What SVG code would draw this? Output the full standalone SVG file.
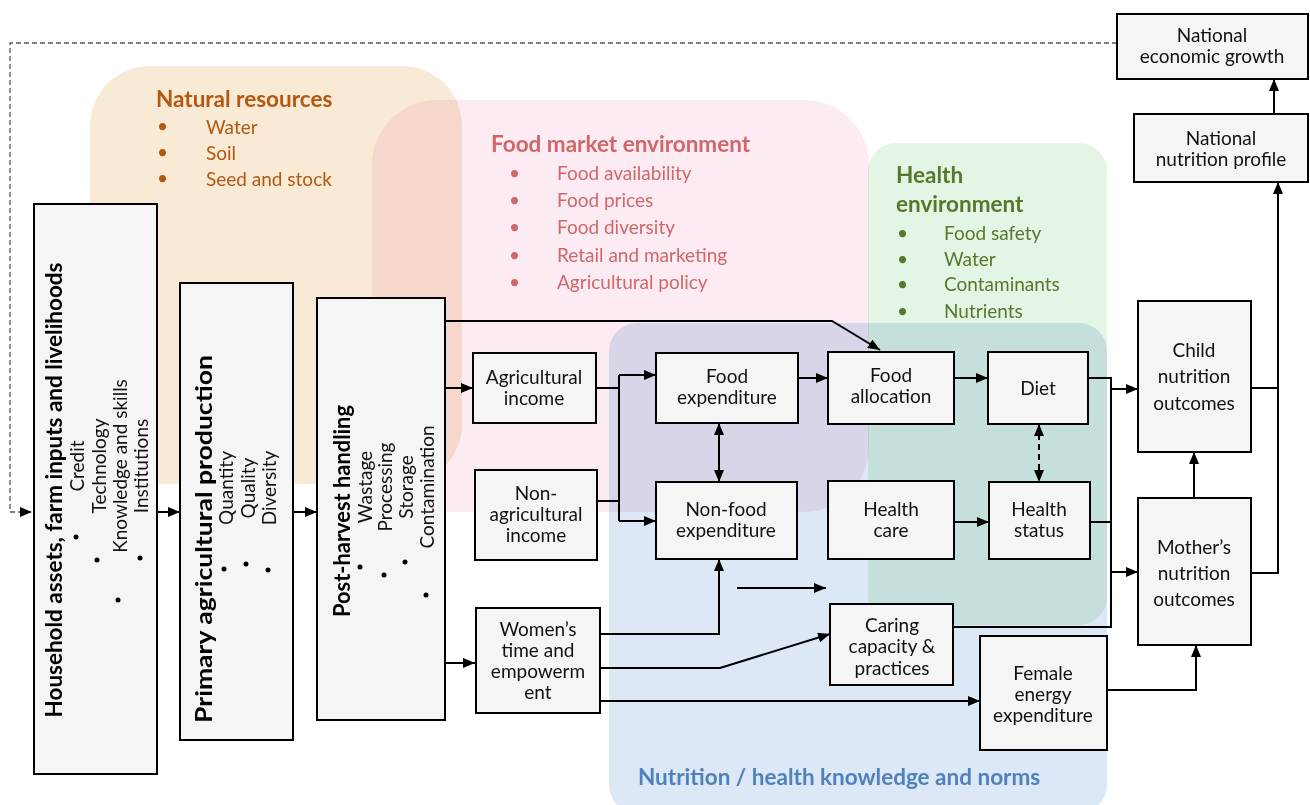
<svg xmlns="http://www.w3.org/2000/svg" width="1310" height="805" viewBox="0 0 1310 805">
<style>
.bg{mix-blend-mode:multiply}
.box{fill:#f5f5f5;stroke:#000;stroke-width:2}
.t{font-family:Lato,"Open Sans",sans-serif;font-size:19px;fill:#111;text-anchor:middle}
.v{font-family:Lato,"Open Sans",sans-serif;font-size:19px;fill:#111;text-anchor:middle}
.vb{font-family:Lato,"Open Sans",sans-serif;font-size:22px;font-weight:bold;fill:#000;text-anchor:middle}
.c{fill:none;stroke:#000;stroke-width:2}
.dot{fill:#000}
.nr{font-family:Lato,"Open Sans",sans-serif;font-size:19px;fill:#b4570f}
.fm{font-family:Lato,"Open Sans",sans-serif;font-size:19px;fill:#d0676a}
.he{font-family:Lato,"Open Sans",sans-serif;font-size:19px;fill:#55782a}
.hd{font-size:22.5px;font-weight:bold}
</style>
<defs>
<marker id="ah" viewBox="0 0 12 10" refX="12" refY="5" markerWidth="12" markerHeight="10" markerUnits="userSpaceOnUse" orient="auto-start-reverse"><path d="M0,0 L12,5 L0,10 z" fill="#000"/></marker>
</defs>
<rect width="1310" height="805" fill="#fff"/>
<g id="backgrounds">
<rect class="bg" x="90" y="66" width="372" height="418" rx="60" fill="#f9ead6"/>
<rect class="bg" x="372" y="100" width="497" height="412" rx="65" fill="#fcebf2"/>
<rect class="bg" x="868" y="143" width="239" height="482" rx="28" fill="#e4f5e5"/>
<rect class="bg" x="609" y="323" width="498" height="490" rx="28" fill="#dce8f5"/>
</g>
<g id="natural-resources">
<text class="nr hd" x="156" y="107">Natural resources</text>
<text class="nr" x="157" y="133" fill="#e07020">•</text><text class="nr" x="206" y="134">Water</text>
<text class="nr" x="157" y="159" fill="#e07020">•</text><text class="nr" x="206" y="160">Soil</text>
<text class="nr" x="157" y="185" fill="#e07020">•</text><text class="nr" x="206" y="186">Seed and stock</text>
</g>
<g id="food-market">
<text class="fm hd" x="491" y="152" fill="#c0504d">Food market environment</text>
<text class="fm" x="509" y="180">•</text><text class="fm" x="557" y="180">Food availability</text>
<text class="fm" x="509" y="207">•</text><text class="fm" x="557" y="207">Food prices</text>
<text class="fm" x="509" y="234">•</text><text class="fm" x="557" y="234">Food diversity</text>
<text class="fm" x="509" y="262">•</text><text class="fm" x="557" y="262">Retail and marketing</text>
<text class="fm" x="509" y="289">•</text><text class="fm" x="557" y="289">Agricultural policy</text>
</g>
<g id="health-env">
<text class="he hd" x="896" y="183">Health</text>
<text class="he hd" x="896" y="212">environment</text>
<text class="he" x="897" y="240">•</text><text class="he" x="944" y="240">Food safety</text>
<text class="he" x="897" y="266">•</text><text class="he" x="944" y="266">Water</text>
<text class="he" x="897" y="291">•</text><text class="he" x="944" y="291">Contaminants</text>
<text class="he" x="897" y="318">•</text><text class="he" x="944" y="318">Nutrients</text>
</g>
<g id="nutrition-knowledge">
<text x="638" y="785" font-family="Lato,'Open Sans',sans-serif" font-size="22.5" font-weight="bold" fill="#4f81bd">Nutrition / health knowledge and norms</text>
</g>
<g id="connectors">
<path d="M1117,43 H10 V512 H32" fill="none" stroke="#555" stroke-width="1.3" stroke-dasharray="5,3" marker-end="url(#ah)"/>
<path class="c" d="M157,512 H180" marker-end="url(#ah)"/>
<path class="c" d="M293,512 H317" marker-end="url(#ah)"/>
<path class="c" d="M445,321 H832 L880,350" marker-end="url(#ah)"/>
<path class="c" d="M445,388 H473" marker-end="url(#ah)"/>
<path class="c" d="M445,663 H475" marker-end="url(#ah)"/>
<path class="c" d="M596,388 H619"/>
<path class="c" d="M597,501 H619"/>
<path class="c" d="M619,375 V521"/>
<path class="c" d="M619,375 H656" marker-end="url(#ah)"/>
<path class="c" d="M619,521 H656" marker-end="url(#ah)"/>
<path class="c" d="M719,423 V482" marker-start="url(#ah)" marker-end="url(#ah)"/>
<path class="c" d="M798,378 H828" marker-end="url(#ah)"/>
<path class="c" d="M954,378 H988" marker-end="url(#ah)"/>
<path class="c" d="M1039,424 V482" stroke-dasharray="6,4" marker-start="url(#ah)" marker-end="url(#ah)"/>
<path class="c" d="M954,522 H989" marker-end="url(#ah)"/>
<path class="c" d="M600,634 H719 V559" marker-end="url(#ah)"/>
<path class="c" d="M600,668 H720 L830,634" marker-end="url(#ah)"/>
<path class="c" d="M600,701 H980" marker-end="url(#ah)"/>
<path class="c" d="M737,588 H826" marker-end="url(#ah)"/>
<path class="c" d="M1088,378 H1111 V627 H953"/>
<path class="c" d="M1090,522 H1111"/>
<path class="c" d="M1111,389 H1138" marker-end="url(#ah)"/>
<path class="c" d="M1111,572 H1138" marker-end="url(#ah)"/>
<path class="c" d="M1107,690 H1196 V645" marker-end="url(#ah)"/>
<path class="c" d="M1194,498 V452" marker-end="url(#ah)"/>
<path class="c" d="M1251,388 H1278"/>
<path class="c" d="M1251,573 H1278 V182" marker-end="url(#ah)"/>
<path class="c" d="M1274,114 V79" marker-end="url(#ah)"/>
</g>
<g id="household">
<rect class="box" x="34" y="204" width="123" height="570"/>
<text class="vb" transform="translate(62,490) rotate(-90)" textLength="455" lengthAdjust="spacingAndGlyphs">Household assets, farm inputs and livelihoods</text>
<text class="v" transform="translate(84,466) rotate(-90)">Credit</text>
<text class="v" transform="translate(106,466) rotate(-90)">Technology</text>
<text class="v" transform="translate(127,466) rotate(-90)">Knowledge and skills</text>
<text class="v" transform="translate(148,466) rotate(-90)">Institutions</text>
<circle class="dot" cx="76" cy="537" r="2.5"/><circle class="dot" cx="97" cy="560" r="2.5"/><circle class="dot" cx="140" cy="558" r="2.5"/><circle class="dot" cx="118" cy="600" r="2.5"/>
</g>
<g id="primary-production">
<rect class="box" x="180" y="283" width="113" height="457"/>
<text class="vb" transform="translate(212,539) rotate(-90)" textLength="368" lengthAdjust="spacingAndGlyphs">Primary agricultural production</text>
<text class="v" transform="translate(233,488) rotate(-90)">Quantity</text>
<text class="v" transform="translate(255,488) rotate(-90)">Quality</text>
<text class="v" transform="translate(276,488) rotate(-90)">Diversity</text>
<circle class="dot" cx="224" cy="569" r="2.5"/><circle class="dot" cx="246" cy="564" r="2.5"/><circle class="dot" cx="268" cy="570" r="2.5"/>
</g>
<g id="post-harvest">
<rect class="box" x="317" y="298" width="128" height="422"/>
<text class="vb" transform="translate(350,511) rotate(-90)" textLength="212" lengthAdjust="spacingAndGlyphs">Post-harvest handling</text>
<text class="v" transform="translate(372,487) rotate(-90)">Wastage</text>
<text class="v" transform="translate(392,487) rotate(-90)">Processing</text>
<text class="v" transform="translate(413,487) rotate(-90)">Storage</text>
<text class="v" transform="translate(434,487) rotate(-90)">Contamination</text>
<circle class="dot" cx="360" cy="567" r="2.5"/><circle class="dot" cx="384" cy="575" r="2.5"/><circle class="dot" cx="405" cy="562" r="2.5"/><circle class="dot" cx="426" cy="595" r="2.5"/>
</g>
<g id="ag-income"><rect class="box" x="473" y="353" width="123" height="70"/><text class="t" x="534" y="384">Agricultural</text><text class="t" x="534" y="405">income</text></g>
<g id="nonag-income"><rect class="box" x="475" y="470" width="122" height="90"/><text class="t" x="536" y="500">Non-</text><text class="t" x="536" y="521">agricultural</text><text class="t" x="536" y="542">income</text></g>
<g id="food-exp"><rect class="box" x="656" y="353" width="142" height="70"/><text class="t" x="727" y="383">Food</text><text class="t" x="727" y="404">expenditure</text></g>
<g id="nonfood-exp"><rect class="box" x="656" y="482" width="141" height="77"/><text class="t" x="726" y="516">Non-food</text><text class="t" x="726" y="537">expenditure</text></g>
<g id="food-alloc"><rect class="box" x="828" y="352" width="126" height="72"/><text class="t" x="891" y="382">Food</text><text class="t" x="891" y="403">allocation</text></g>
<g id="diet"><rect class="box" x="988" y="352" width="100" height="72"/><text class="t" x="1038" y="395">Diet</text></g>
<g id="health-care"><rect class="box" x="828" y="481" width="126" height="78"/><text class="t" x="891" y="516">Health</text><text class="t" x="891" y="537">care</text></g>
<g id="health-status"><rect class="box" x="989" y="482" width="101" height="77"/><text class="t" x="1039" y="516">Health</text><text class="t" x="1039" y="537">status</text></g>
<g id="womens"><rect class="box" x="476" y="608" width="124" height="105"/><text class="t" x="538" y="636">Women’s</text><text class="t" x="538" y="657">time and</text><text class="t" x="538" y="678">empowerm</text><text class="t" x="538" y="699">ent</text></g>
<g id="caring"><rect class="box" x="830" y="604" width="123" height="81"/><text class="t" x="892" y="632">Caring</text><text class="t" x="892" y="653">capacity &amp;</text><text class="t" x="892" y="675">practices</text></g>
<g id="female-energy"><rect class="box" x="980" y="636" width="127" height="114"/><text class="t" x="1043" y="680">Female</text><text class="t" x="1043" y="701">energy</text><text class="t" x="1043" y="722">expenditure</text></g>
<g id="child"><rect class="box" x="1138" y="301" width="113" height="151"/><text class="t" x="1194" y="357">Child</text><text class="t" x="1194" y="383">nutrition</text><text class="t" x="1194" y="410">outcomes</text></g>
<g id="mother"><rect class="box" x="1138" y="498" width="113" height="147"/><text class="t" x="1194" y="554">Mother’s</text><text class="t" x="1194" y="580">nutrition</text><text class="t" x="1194" y="606">outcomes</text></g>
<g id="national-nutrition"><rect class="box" x="1134" y="114" width="174" height="68"/><text class="t" x="1221" y="145">National</text><text class="t" x="1221" y="166">nutrition profile</text></g>
<g id="national-growth"><rect class="box" x="1117" y="14" width="191" height="65"/><text class="t" x="1212" y="42">National</text><text class="t" x="1212" y="63">economic growth</text></g>
</svg>
